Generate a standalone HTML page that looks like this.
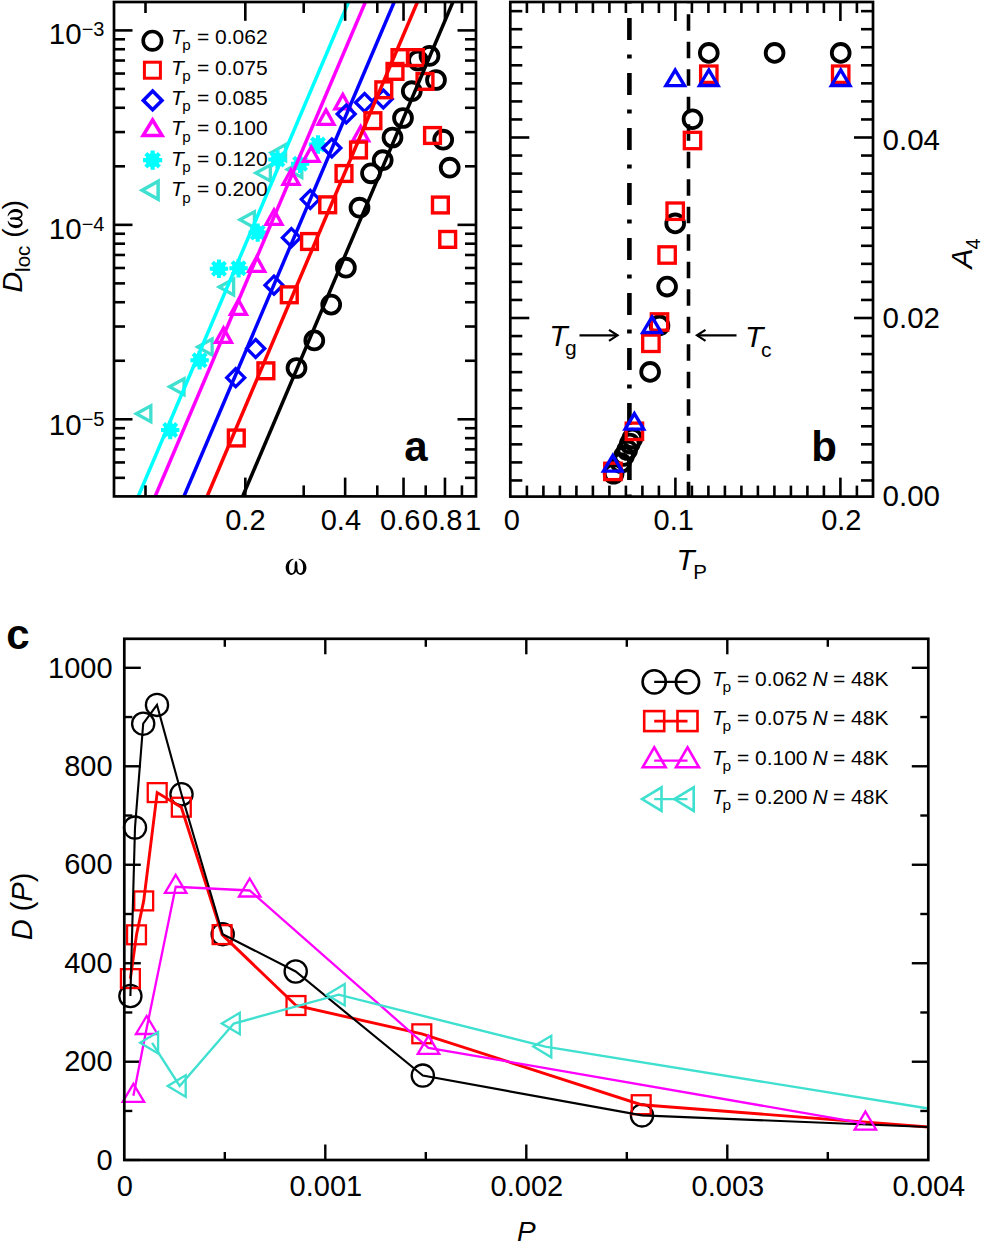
<!DOCTYPE html>
<html><head><meta charset="utf-8"><style>
html,body{margin:0;padding:0;background:#fff;}
svg{display:block;}
text{font-family:"Liberation Sans",sans-serif;fill:#000;}
</style></head><body>
<svg width="981" height="1242" viewBox="0 0 981 1242">
<defs>
<clipPath id="clipA"><rect x="114" y="2" width="362" height="494.4"/></clipPath>
<clipPath id="clipC"><rect x="124.3" y="638.8" width="804" height="521.2"/></clipPath>
</defs>
<rect width="981" height="1242" fill="#fff"/>
<g id="panelA">
<g clip-path="url(#clipA)">
<polygon points="271.13,152.6 285.63,144.6 285.63,160.6" fill="none" stroke="#40e0d0" stroke-width="3.3"/>
<polygon points="287.33,169.5 301.83,161.5 301.83,177.5" fill="none" stroke="#40e0d0" stroke-width="3.3"/>
<polygon points="255.83,173 270.33,165 270.33,181" fill="none" stroke="#40e0d0" stroke-width="3.3"/>
<polygon points="239.93,219.8 254.43,211.8 254.43,227.8" fill="none" stroke="#40e0d0" stroke-width="3.3"/>
<polygon points="219.13,287 233.63,279 233.63,295" fill="none" stroke="#40e0d0" stroke-width="3.3"/>
<polygon points="197.63,347 212.13,339 212.13,355" fill="none" stroke="#40e0d0" stroke-width="3.3"/>
<polygon points="169.53,386.8 184.03,378.8 184.03,394.8" fill="none" stroke="#40e0d0" stroke-width="3.3"/>
<polygon points="136.33,413.7 150.83,405.7 150.83,421.7" fill="none" stroke="#40e0d0" stroke-width="3.3"/>
<path d="M308.8 144.5L327.2 144.5M311.49 137.99L324.51 151.01M318 135.3L318 153.7M324.51 137.99L311.49 151.01" stroke="#00ffff" stroke-width="4.1" stroke-linecap="butt" fill="none"/>
<circle cx="318" cy="144.5" r="6.81" fill="#00ffff"/>
<path d="M290.9 163.8L309.3 163.8M293.59 157.29L306.61 170.31M300.1 154.6L300.1 173M306.61 157.29L293.59 170.31" stroke="#00ffff" stroke-width="4.1" stroke-linecap="butt" fill="none"/>
<circle cx="300.1" cy="163.8" r="6.81" fill="#00ffff"/>
<path d="M268.3 159.5L286.7 159.5M270.99 152.99L284.01 166.01M277.5 150.3L277.5 168.7M284.01 152.99L270.99 166.01" stroke="#00ffff" stroke-width="4.1" stroke-linecap="butt" fill="none"/>
<circle cx="277.5" cy="159.5" r="6.81" fill="#00ffff"/>
<path d="M248.5 232.6L266.9 232.6M251.19 226.09L264.21 239.11M257.7 223.4L257.7 241.8M264.21 226.09L251.19 239.11" stroke="#00ffff" stroke-width="4.1" stroke-linecap="butt" fill="none"/>
<circle cx="257.7" cy="232.6" r="6.81" fill="#00ffff"/>
<path d="M209.8 268.8L228.2 268.8M212.49 262.29L225.51 275.31M219 259.6L219 278M225.51 262.29L212.49 275.31" stroke="#00ffff" stroke-width="4.1" stroke-linecap="butt" fill="none"/>
<circle cx="219" cy="268.8" r="6.81" fill="#00ffff"/>
<path d="M229.4 268.2L247.8 268.2M232.09 261.69L245.11 274.71M238.6 259L238.6 277.4M245.11 261.69L232.09 274.71" stroke="#00ffff" stroke-width="4.1" stroke-linecap="butt" fill="none"/>
<circle cx="238.6" cy="268.2" r="6.81" fill="#00ffff"/>
<path d="M190.4 360.3L208.8 360.3M193.09 353.79L206.11 366.81M199.6 351.1L199.6 369.5M206.11 353.79L193.09 366.81" stroke="#00ffff" stroke-width="4.1" stroke-linecap="butt" fill="none"/>
<circle cx="199.6" cy="360.3" r="6.81" fill="#00ffff"/>
<path d="M161 430L179.4 430M163.69 423.49L176.71 436.51M170.2 420.8L170.2 439.2M176.71 423.49L163.69 436.51" stroke="#00ffff" stroke-width="4.1" stroke-linecap="butt" fill="none"/>
<circle cx="170.2" cy="430" r="6.81" fill="#00ffff"/>
<polygon points="342.8,94.33 350.8,108.83 334.8,108.83" fill="none" stroke="#ff00ff" stroke-width="3.3"/>
<polygon points="326,109.83 334,124.33 318,124.33" fill="none" stroke="#ff00ff" stroke-width="3.3"/>
<polygon points="360.7,126.33 368.7,140.83 352.7,140.83" fill="none" stroke="#ff00ff" stroke-width="3.3"/>
<polygon points="311.2,146.83 319.2,161.33 303.2,161.33" fill="none" stroke="#ff00ff" stroke-width="3.3"/>
<polygon points="291,169.83 299,184.33 283,184.33" fill="none" stroke="#ff00ff" stroke-width="3.3"/>
<polygon points="274,209.83 282,224.33 266,224.33" fill="none" stroke="#ff00ff" stroke-width="3.3"/>
<polygon points="256.7,256.83 264.7,271.33 248.7,271.33" fill="none" stroke="#ff00ff" stroke-width="3.3"/>
<polygon points="238.4,299.83 246.4,314.33 230.4,314.33" fill="none" stroke="#ff00ff" stroke-width="3.3"/>
<polygon points="223.5,327.83 231.5,342.33 215.5,342.33" fill="none" stroke="#ff00ff" stroke-width="3.3"/>
<polygon points="383.3,90 392.3,99 383.3,108 374.3,99" fill="none" stroke="#0000ff" stroke-width="3.3"/>
<polygon points="364.5,93.5 373.5,102.5 364.5,111.5 355.5,102.5" fill="none" stroke="#0000ff" stroke-width="3.3"/>
<polygon points="346.2,105 355.2,114 346.2,123 337.2,114" fill="none" stroke="#0000ff" stroke-width="3.3"/>
<polygon points="331.8,139 340.8,148 331.8,157 322.8,148" fill="none" stroke="#0000ff" stroke-width="3.3"/>
<polygon points="310.3,190.3 319.3,199.3 310.3,208.3 301.3,199.3" fill="none" stroke="#0000ff" stroke-width="3.3"/>
<polygon points="291.4,228.7 300.4,237.7 291.4,246.7 282.4,237.7" fill="none" stroke="#0000ff" stroke-width="3.3"/>
<polygon points="274,276.2 283,285.2 274,294.2 265,285.2" fill="none" stroke="#0000ff" stroke-width="3.3"/>
<polygon points="255.7,339.5 264.7,348.5 255.7,357.5 246.7,348.5" fill="none" stroke="#0000ff" stroke-width="3.3"/>
<polygon points="235.7,368.7 244.7,377.7 235.7,386.7 226.7,377.7" fill="none" stroke="#0000ff" stroke-width="3.3"/>
<circle cx="418" cy="60.5" r="8.95" fill="none" stroke="#000" stroke-width="3.8"/>
<circle cx="429.5" cy="55.9" r="8.95" fill="none" stroke="#000" stroke-width="3.8"/>
<circle cx="436" cy="80" r="8.95" fill="none" stroke="#000" stroke-width="3.8"/>
<circle cx="411.8" cy="91.2" r="8.95" fill="none" stroke="#000" stroke-width="3.8"/>
<circle cx="403" cy="118" r="8.95" fill="none" stroke="#000" stroke-width="3.8"/>
<circle cx="392.5" cy="137.5" r="8.95" fill="none" stroke="#000" stroke-width="3.8"/>
<circle cx="443.2" cy="139.7" r="8.95" fill="none" stroke="#000" stroke-width="3.8"/>
<circle cx="382.7" cy="160.2" r="8.95" fill="none" stroke="#000" stroke-width="3.8"/>
<circle cx="449.7" cy="167.7" r="8.95" fill="none" stroke="#000" stroke-width="3.8"/>
<circle cx="371" cy="173.3" r="8.95" fill="none" stroke="#000" stroke-width="3.8"/>
<circle cx="359.5" cy="207.7" r="8.95" fill="none" stroke="#000" stroke-width="3.8"/>
<circle cx="345.9" cy="267.7" r="8.95" fill="none" stroke="#000" stroke-width="3.8"/>
<circle cx="331.2" cy="304.6" r="8.95" fill="none" stroke="#000" stroke-width="3.8"/>
<circle cx="314.3" cy="340.4" r="8.95" fill="none" stroke="#000" stroke-width="3.8"/>
<circle cx="296.5" cy="368" r="8.95" fill="none" stroke="#000" stroke-width="3.8"/>
<rect x="392.1" y="49.7" width="15.8" height="15.8" fill="none" stroke="#ff0000" stroke-width="3.4"/>
<rect x="407.5" y="49.7" width="15.8" height="15.8" fill="none" stroke="#ff0000" stroke-width="3.4"/>
<rect x="387.1" y="63.5" width="15.8" height="15.8" fill="none" stroke="#ff0000" stroke-width="3.4"/>
<rect x="417.1" y="73.5" width="15.8" height="15.8" fill="none" stroke="#ff0000" stroke-width="3.4"/>
<rect x="375.9" y="81.9" width="15.8" height="15.8" fill="none" stroke="#ff0000" stroke-width="3.4"/>
<rect x="365" y="112.8" width="15.8" height="15.8" fill="none" stroke="#ff0000" stroke-width="3.4"/>
<rect x="424.6" y="127.6" width="15.8" height="15.8" fill="none" stroke="#ff0000" stroke-width="3.4"/>
<rect x="350.6" y="142.1" width="15.8" height="15.8" fill="none" stroke="#ff0000" stroke-width="3.4"/>
<rect x="336.1" y="165.6" width="15.8" height="15.8" fill="none" stroke="#ff0000" stroke-width="3.4"/>
<rect x="319.8" y="196.9" width="15.8" height="15.8" fill="none" stroke="#ff0000" stroke-width="3.4"/>
<rect x="432.5" y="197.1" width="15.8" height="15.8" fill="none" stroke="#ff0000" stroke-width="3.4"/>
<rect x="301.6" y="233.6" width="15.8" height="15.8" fill="none" stroke="#ff0000" stroke-width="3.4"/>
<rect x="439.8" y="231.5" width="15.8" height="15.8" fill="none" stroke="#ff0000" stroke-width="3.4"/>
<rect x="281.4" y="286.9" width="15.8" height="15.8" fill="none" stroke="#ff0000" stroke-width="3.4"/>
<rect x="258" y="362.9" width="15.8" height="15.8" fill="none" stroke="#ff0000" stroke-width="3.4"/>
<rect x="228.4" y="430.1" width="15.8" height="15.8" fill="none" stroke="#ff0000" stroke-width="3.4"/>
<line x1="138.4" y1="496" x2="348.5" y2="2" stroke="#00ffff" stroke-width="3.5"/>
<line x1="155.3" y1="496" x2="365.4" y2="2" stroke="#ff00ff" stroke-width="3.5"/>
<line x1="184.1" y1="496" x2="394.2" y2="2" stroke="#0000ff" stroke-width="3.5"/>
<line x1="207.3" y1="496" x2="417.4" y2="2" stroke="#ff0000" stroke-width="3.5"/>
<line x1="242.8" y1="496" x2="452.9" y2="2" stroke="#000" stroke-width="3.5"/>
</g>
<line x1="114" y1="30.4" x2="132.5" y2="30.4" stroke="#000" stroke-width="2.6"/>
<line x1="476" y1="30.4" x2="457.5" y2="30.4" stroke="#000" stroke-width="2.6"/>
<line x1="114" y1="224.85" x2="132.5" y2="224.85" stroke="#000" stroke-width="2.6"/>
<line x1="476" y1="224.85" x2="457.5" y2="224.85" stroke="#000" stroke-width="2.6"/>
<line x1="114" y1="166.31" x2="125" y2="166.31" stroke="#000" stroke-width="2.6"/>
<line x1="476" y1="166.31" x2="465" y2="166.31" stroke="#000" stroke-width="2.6"/>
<line x1="114" y1="132.07" x2="125" y2="132.07" stroke="#000" stroke-width="2.6"/>
<line x1="476" y1="132.07" x2="465" y2="132.07" stroke="#000" stroke-width="2.6"/>
<line x1="114" y1="107.78" x2="125" y2="107.78" stroke="#000" stroke-width="2.6"/>
<line x1="476" y1="107.78" x2="465" y2="107.78" stroke="#000" stroke-width="2.6"/>
<line x1="114" y1="88.94" x2="125" y2="88.94" stroke="#000" stroke-width="2.6"/>
<line x1="476" y1="88.94" x2="465" y2="88.94" stroke="#000" stroke-width="2.6"/>
<line x1="114" y1="73.54" x2="125" y2="73.54" stroke="#000" stroke-width="2.6"/>
<line x1="476" y1="73.54" x2="465" y2="73.54" stroke="#000" stroke-width="2.6"/>
<line x1="114" y1="60.52" x2="125" y2="60.52" stroke="#000" stroke-width="2.6"/>
<line x1="476" y1="60.52" x2="465" y2="60.52" stroke="#000" stroke-width="2.6"/>
<line x1="114" y1="49.24" x2="125" y2="49.24" stroke="#000" stroke-width="2.6"/>
<line x1="476" y1="49.24" x2="465" y2="49.24" stroke="#000" stroke-width="2.6"/>
<line x1="114" y1="39.3" x2="125" y2="39.3" stroke="#000" stroke-width="2.6"/>
<line x1="476" y1="39.3" x2="465" y2="39.3" stroke="#000" stroke-width="2.6"/>
<line x1="114" y1="419.3" x2="132.5" y2="419.3" stroke="#000" stroke-width="2.6"/>
<line x1="476" y1="419.3" x2="457.5" y2="419.3" stroke="#000" stroke-width="2.6"/>
<line x1="114" y1="360.76" x2="125" y2="360.76" stroke="#000" stroke-width="2.6"/>
<line x1="476" y1="360.76" x2="465" y2="360.76" stroke="#000" stroke-width="2.6"/>
<line x1="114" y1="326.52" x2="125" y2="326.52" stroke="#000" stroke-width="2.6"/>
<line x1="476" y1="326.52" x2="465" y2="326.52" stroke="#000" stroke-width="2.6"/>
<line x1="114" y1="302.23" x2="125" y2="302.23" stroke="#000" stroke-width="2.6"/>
<line x1="476" y1="302.23" x2="465" y2="302.23" stroke="#000" stroke-width="2.6"/>
<line x1="114" y1="283.39" x2="125" y2="283.39" stroke="#000" stroke-width="2.6"/>
<line x1="476" y1="283.39" x2="465" y2="283.39" stroke="#000" stroke-width="2.6"/>
<line x1="114" y1="267.99" x2="125" y2="267.99" stroke="#000" stroke-width="2.6"/>
<line x1="476" y1="267.99" x2="465" y2="267.99" stroke="#000" stroke-width="2.6"/>
<line x1="114" y1="254.97" x2="125" y2="254.97" stroke="#000" stroke-width="2.6"/>
<line x1="476" y1="254.97" x2="465" y2="254.97" stroke="#000" stroke-width="2.6"/>
<line x1="114" y1="243.69" x2="125" y2="243.69" stroke="#000" stroke-width="2.6"/>
<line x1="476" y1="243.69" x2="465" y2="243.69" stroke="#000" stroke-width="2.6"/>
<line x1="114" y1="233.75" x2="125" y2="233.75" stroke="#000" stroke-width="2.6"/>
<line x1="476" y1="233.75" x2="465" y2="233.75" stroke="#000" stroke-width="2.6"/>
<line x1="114" y1="477.84" x2="125" y2="477.84" stroke="#000" stroke-width="2.6"/>
<line x1="476" y1="477.84" x2="465" y2="477.84" stroke="#000" stroke-width="2.6"/>
<line x1="114" y1="462.44" x2="125" y2="462.44" stroke="#000" stroke-width="2.6"/>
<line x1="476" y1="462.44" x2="465" y2="462.44" stroke="#000" stroke-width="2.6"/>
<line x1="114" y1="449.42" x2="125" y2="449.42" stroke="#000" stroke-width="2.6"/>
<line x1="476" y1="449.42" x2="465" y2="449.42" stroke="#000" stroke-width="2.6"/>
<line x1="114" y1="438.14" x2="125" y2="438.14" stroke="#000" stroke-width="2.6"/>
<line x1="476" y1="438.14" x2="465" y2="438.14" stroke="#000" stroke-width="2.6"/>
<line x1="114" y1="428.2" x2="125" y2="428.2" stroke="#000" stroke-width="2.6"/>
<line x1="476" y1="428.2" x2="465" y2="428.2" stroke="#000" stroke-width="2.6"/>
<line x1="145.5" y1="496.4" x2="145.5" y2="485.4" stroke="#000" stroke-width="2.6"/>
<line x1="145.5" y1="2" x2="145.5" y2="13" stroke="#000" stroke-width="2.6"/>
<line x1="245.32" y1="496.4" x2="245.32" y2="477.6" stroke="#000" stroke-width="2.6"/>
<line x1="245.32" y1="2" x2="245.32" y2="20.8" stroke="#000" stroke-width="2.6"/>
<line x1="303.71" y1="496.4" x2="303.71" y2="485.4" stroke="#000" stroke-width="2.6"/>
<line x1="303.71" y1="2" x2="303.71" y2="13" stroke="#000" stroke-width="2.6"/>
<line x1="345.14" y1="496.4" x2="345.14" y2="477.6" stroke="#000" stroke-width="2.6"/>
<line x1="345.14" y1="2" x2="345.14" y2="20.8" stroke="#000" stroke-width="2.6"/>
<line x1="377.28" y1="496.4" x2="377.28" y2="485.4" stroke="#000" stroke-width="2.6"/>
<line x1="377.28" y1="2" x2="377.28" y2="13" stroke="#000" stroke-width="2.6"/>
<line x1="403.53" y1="496.4" x2="403.53" y2="477.6" stroke="#000" stroke-width="2.6"/>
<line x1="403.53" y1="2" x2="403.53" y2="20.8" stroke="#000" stroke-width="2.6"/>
<line x1="425.73" y1="496.4" x2="425.73" y2="485.4" stroke="#000" stroke-width="2.6"/>
<line x1="425.73" y1="2" x2="425.73" y2="13" stroke="#000" stroke-width="2.6"/>
<line x1="444.96" y1="496.4" x2="444.96" y2="477.6" stroke="#000" stroke-width="2.6"/>
<line x1="444.96" y1="2" x2="444.96" y2="20.8" stroke="#000" stroke-width="2.6"/>
<line x1="461.93" y1="496.4" x2="461.93" y2="485.4" stroke="#000" stroke-width="2.6"/>
<line x1="461.93" y1="2" x2="461.93" y2="13" stroke="#000" stroke-width="2.6"/>
<circle cx="152.4" cy="40.7" r="9.2" fill="none" stroke="#000" stroke-width="3.6"/>
<rect x="144.4" y="62.2" width="16" height="16" fill="none" stroke="#ff0000" stroke-width="3"/>
<polygon points="152.65,91.1 161.95,100.4 152.65,109.7 143.35,100.4" fill="none" stroke="#0000ff" stroke-width="3.6"/>
<polygon points="152.6,119.97 162.1,135.47 143.1,135.47" fill="none" stroke="#ff00ff" stroke-width="3.5"/>
<path d="M143 160.2L162.2 160.2M145.81 153.41L159.39 166.99M152.6 150.6L152.6 169.8M159.39 153.41L145.81 166.99" stroke="#00ffff" stroke-width="4.2" stroke-linecap="butt" fill="none"/>
<circle cx="152.6" cy="160.2" r="7.1" fill="#00ffff"/>
<polygon points="142.13,190.2 158.13,181.2 158.13,199.2" fill="none" stroke="#40e0d0" stroke-width="3.5"/>
<text x="171" y="44.1" font-size="21"><tspan font-style="italic">T</tspan><tspan font-size="15.2" dy="6.3" dx="-1.5">p</tspan><tspan dy="-6.3" dx="0.3"> = 0.062</tspan></text>
<text x="171" y="74.55" font-size="21"><tspan font-style="italic">T</tspan><tspan font-size="15.2" dy="6.3" dx="-1.5">p</tspan><tspan dy="-6.3" dx="0.3"> = 0.075</tspan></text>
<text x="171" y="105" font-size="21"><tspan font-style="italic">T</tspan><tspan font-size="15.2" dy="6.3" dx="-1.5">p</tspan><tspan dy="-6.3" dx="0.3"> = 0.085</tspan></text>
<text x="171" y="135.45" font-size="21"><tspan font-style="italic">T</tspan><tspan font-size="15.2" dy="6.3" dx="-1.5">p</tspan><tspan dy="-6.3" dx="0.3"> = 0.100</tspan></text>
<text x="171" y="165.9" font-size="21"><tspan font-style="italic">T</tspan><tspan font-size="15.2" dy="6.3" dx="-1.5">p</tspan><tspan dy="-6.3" dx="0.3"> = 0.120</tspan></text>
<text x="171" y="196.35" font-size="21"><tspan font-style="italic">T</tspan><tspan font-size="15.2" dy="6.3" dx="-1.5">p</tspan><tspan dy="-6.3" dx="0.3"> = 0.200</tspan></text>
<rect x="114" y="2" width="362" height="494.4" fill="none" stroke="#000" stroke-width="2.7"/>
<text x="48.8" y="44.3" font-size="29.5">10<tspan font-size="20" dy="-8.5">&#8722;3</tspan></text>
<text x="48.8" y="239.3" font-size="29.5">10<tspan font-size="20" dy="-8.5">&#8722;4</tspan></text>
<text x="48.8" y="434.6" font-size="29.5">10<tspan font-size="20" dy="-8.5">&#8722;5</tspan></text>
<text transform="translate(245.4 530.4) scale(1 1)" font-size="29" text-anchor="middle">0.2</text>
<text transform="translate(340.9 530.4) scale(1 1)" font-size="29" text-anchor="middle">0.4</text>
<text transform="translate(400.2 530.4) scale(1 1)" font-size="29" text-anchor="middle">0.6</text>
<text transform="translate(442.1 530.4) scale(1 1)" font-size="29" text-anchor="middle">0.8</text>
<text transform="translate(473 530.4) scale(1 1)" font-size="29" text-anchor="middle">1</text>
<path transform="translate(296.05 574.6) scale(0.98 0.97)" d="M-2.7 -16.3 C-7.6 -15.7 -10.6 -11.6 -10.6 -7.2 C-10.6 -2.6 -7.9 0.35 -4.9 0.35 C-2.3 0.35 -0.7 -1.4 0 -3.4 C0.7 -1.4 2.3 0.35 4.9 0.35 C7.9 0.35 10.6 -2.6 10.6 -7.2 C10.6 -11.6 7.6 -15.7 2.7 -16.3 L2.5 -15.8 C5.6 -14.6 7.2 -11.4 7.2 -7.6 C7.2 -3.7 6.1 -1.4 4.5 -1.4 C2.9 -1.4 1.8 -3.2 1.5 -5.6 C1.5 -9 1.6 -13.6 0 -13.9 C-1.6 -13.6 -1.5 -9 -1.5 -5.6 C-1.8 -3.2 -2.9 -1.4 -4.5 -1.4 C-6.1 -1.4 -7.2 -3.7 -7.2 -7.6 C-7.2 -11.4 -5.6 -14.6 -2.5 -15.8 Z" fill="#000"/>
<text transform="translate(21.6 292.5) rotate(-90)" font-size="28.5"><tspan font-style="italic">D</tspan><tspan font-size="20.5" dy="8">loc</tspan><tspan dy="-8"> (</tspan><tspan font-family="Liberation Serif" fill-opacity="0">&#969;</tspan>)</text>
<path transform="translate(22.3 218.6) rotate(-90) scale(0.9 0.9)" d="M-2.7 -16.3 C-7.6 -15.7 -10.6 -11.6 -10.6 -7.2 C-10.6 -2.6 -7.9 0.35 -4.9 0.35 C-2.3 0.35 -0.7 -1.4 0 -3.4 C0.7 -1.4 2.3 0.35 4.9 0.35 C7.9 0.35 10.6 -2.6 10.6 -7.2 C10.6 -11.6 7.6 -15.7 2.7 -16.3 L2.5 -15.8 C5.6 -14.6 7.2 -11.4 7.2 -7.6 C7.2 -3.7 6.1 -1.4 4.5 -1.4 C2.9 -1.4 1.8 -3.2 1.5 -5.6 C1.5 -9 1.6 -13.6 0 -13.9 C-1.6 -13.6 -1.5 -9 -1.5 -5.6 C-1.8 -3.2 -2.9 -1.4 -4.5 -1.4 C-6.1 -1.4 -7.2 -3.7 -7.2 -7.6 C-7.2 -11.4 -5.6 -14.6 -2.5 -15.8 Z" fill="#000"/>
<text x="416" y="460.5" font-size="42" text-anchor="middle" font-weight="bold">a</text>
</g>
<g id="panelB">
<line x1="526.9" y1="496.6" x2="526.9" y2="485.6" stroke="#000" stroke-width="2.6"/>
<line x1="526.9" y1="2" x2="526.9" y2="13" stroke="#000" stroke-width="2.6"/>
<line x1="543.4" y1="496.6" x2="543.4" y2="485.6" stroke="#000" stroke-width="2.6"/>
<line x1="543.4" y1="2" x2="543.4" y2="13" stroke="#000" stroke-width="2.6"/>
<line x1="559.9" y1="496.6" x2="559.9" y2="485.6" stroke="#000" stroke-width="2.6"/>
<line x1="559.9" y1="2" x2="559.9" y2="13" stroke="#000" stroke-width="2.6"/>
<line x1="576.4" y1="496.6" x2="576.4" y2="485.6" stroke="#000" stroke-width="2.6"/>
<line x1="576.4" y1="2" x2="576.4" y2="13" stroke="#000" stroke-width="2.6"/>
<line x1="592.9" y1="496.6" x2="592.9" y2="485.6" stroke="#000" stroke-width="2.6"/>
<line x1="592.9" y1="2" x2="592.9" y2="13" stroke="#000" stroke-width="2.6"/>
<line x1="609.4" y1="496.6" x2="609.4" y2="485.6" stroke="#000" stroke-width="2.6"/>
<line x1="609.4" y1="2" x2="609.4" y2="13" stroke="#000" stroke-width="2.6"/>
<line x1="625.9" y1="496.6" x2="625.9" y2="485.6" stroke="#000" stroke-width="2.6"/>
<line x1="625.9" y1="2" x2="625.9" y2="13" stroke="#000" stroke-width="2.6"/>
<line x1="642.4" y1="496.6" x2="642.4" y2="485.6" stroke="#000" stroke-width="2.6"/>
<line x1="642.4" y1="2" x2="642.4" y2="13" stroke="#000" stroke-width="2.6"/>
<line x1="658.9" y1="496.6" x2="658.9" y2="485.6" stroke="#000" stroke-width="2.6"/>
<line x1="658.9" y1="2" x2="658.9" y2="13" stroke="#000" stroke-width="2.6"/>
<line x1="675.4" y1="496.6" x2="675.4" y2="477.6" stroke="#000" stroke-width="2.6"/>
<line x1="675.4" y1="2" x2="675.4" y2="21" stroke="#000" stroke-width="2.6"/>
<line x1="691.9" y1="496.6" x2="691.9" y2="485.6" stroke="#000" stroke-width="2.6"/>
<line x1="691.9" y1="2" x2="691.9" y2="13" stroke="#000" stroke-width="2.6"/>
<line x1="708.4" y1="496.6" x2="708.4" y2="485.6" stroke="#000" stroke-width="2.6"/>
<line x1="708.4" y1="2" x2="708.4" y2="13" stroke="#000" stroke-width="2.6"/>
<line x1="724.9" y1="496.6" x2="724.9" y2="485.6" stroke="#000" stroke-width="2.6"/>
<line x1="724.9" y1="2" x2="724.9" y2="13" stroke="#000" stroke-width="2.6"/>
<line x1="741.4" y1="496.6" x2="741.4" y2="485.6" stroke="#000" stroke-width="2.6"/>
<line x1="741.4" y1="2" x2="741.4" y2="13" stroke="#000" stroke-width="2.6"/>
<line x1="757.9" y1="496.6" x2="757.9" y2="485.6" stroke="#000" stroke-width="2.6"/>
<line x1="757.9" y1="2" x2="757.9" y2="13" stroke="#000" stroke-width="2.6"/>
<line x1="774.4" y1="496.6" x2="774.4" y2="485.6" stroke="#000" stroke-width="2.6"/>
<line x1="774.4" y1="2" x2="774.4" y2="13" stroke="#000" stroke-width="2.6"/>
<line x1="790.9" y1="496.6" x2="790.9" y2="485.6" stroke="#000" stroke-width="2.6"/>
<line x1="790.9" y1="2" x2="790.9" y2="13" stroke="#000" stroke-width="2.6"/>
<line x1="807.4" y1="496.6" x2="807.4" y2="485.6" stroke="#000" stroke-width="2.6"/>
<line x1="807.4" y1="2" x2="807.4" y2="13" stroke="#000" stroke-width="2.6"/>
<line x1="823.9" y1="496.6" x2="823.9" y2="485.6" stroke="#000" stroke-width="2.6"/>
<line x1="823.9" y1="2" x2="823.9" y2="13" stroke="#000" stroke-width="2.6"/>
<line x1="840.4" y1="496.6" x2="840.4" y2="477.6" stroke="#000" stroke-width="2.6"/>
<line x1="840.4" y1="2" x2="840.4" y2="21" stroke="#000" stroke-width="2.6"/>
<line x1="856.9" y1="496.6" x2="856.9" y2="485.6" stroke="#000" stroke-width="2.6"/>
<line x1="856.9" y1="2" x2="856.9" y2="13" stroke="#000" stroke-width="2.6"/>
<line x1="510.3" y1="480.45" x2="522.3" y2="480.45" stroke="#000" stroke-width="2.6"/>
<line x1="873" y1="480.45" x2="861" y2="480.45" stroke="#000" stroke-width="2.6"/>
<line x1="510.3" y1="462.4" x2="522.3" y2="462.4" stroke="#000" stroke-width="2.6"/>
<line x1="873" y1="462.4" x2="861" y2="462.4" stroke="#000" stroke-width="2.6"/>
<line x1="510.3" y1="444.35" x2="522.3" y2="444.35" stroke="#000" stroke-width="2.6"/>
<line x1="873" y1="444.35" x2="861" y2="444.35" stroke="#000" stroke-width="2.6"/>
<line x1="510.3" y1="426.3" x2="522.3" y2="426.3" stroke="#000" stroke-width="2.6"/>
<line x1="873" y1="426.3" x2="861" y2="426.3" stroke="#000" stroke-width="2.6"/>
<line x1="510.3" y1="408.25" x2="522.3" y2="408.25" stroke="#000" stroke-width="2.6"/>
<line x1="873" y1="408.25" x2="861" y2="408.25" stroke="#000" stroke-width="2.6"/>
<line x1="510.3" y1="390.2" x2="522.3" y2="390.2" stroke="#000" stroke-width="2.6"/>
<line x1="873" y1="390.2" x2="861" y2="390.2" stroke="#000" stroke-width="2.6"/>
<line x1="510.3" y1="372.15" x2="522.3" y2="372.15" stroke="#000" stroke-width="2.6"/>
<line x1="873" y1="372.15" x2="861" y2="372.15" stroke="#000" stroke-width="2.6"/>
<line x1="510.3" y1="354.1" x2="522.3" y2="354.1" stroke="#000" stroke-width="2.6"/>
<line x1="873" y1="354.1" x2="861" y2="354.1" stroke="#000" stroke-width="2.6"/>
<line x1="510.3" y1="336.05" x2="522.3" y2="336.05" stroke="#000" stroke-width="2.6"/>
<line x1="873" y1="336.05" x2="861" y2="336.05" stroke="#000" stroke-width="2.6"/>
<line x1="510.3" y1="318" x2="529.3" y2="318" stroke="#000" stroke-width="2.6"/>
<line x1="873" y1="318" x2="854" y2="318" stroke="#000" stroke-width="2.6"/>
<line x1="510.3" y1="299.95" x2="522.3" y2="299.95" stroke="#000" stroke-width="2.6"/>
<line x1="873" y1="299.95" x2="861" y2="299.95" stroke="#000" stroke-width="2.6"/>
<line x1="510.3" y1="281.9" x2="522.3" y2="281.9" stroke="#000" stroke-width="2.6"/>
<line x1="873" y1="281.9" x2="861" y2="281.9" stroke="#000" stroke-width="2.6"/>
<line x1="510.3" y1="263.85" x2="522.3" y2="263.85" stroke="#000" stroke-width="2.6"/>
<line x1="873" y1="263.85" x2="861" y2="263.85" stroke="#000" stroke-width="2.6"/>
<line x1="510.3" y1="245.8" x2="522.3" y2="245.8" stroke="#000" stroke-width="2.6"/>
<line x1="873" y1="245.8" x2="861" y2="245.8" stroke="#000" stroke-width="2.6"/>
<line x1="510.3" y1="227.75" x2="522.3" y2="227.75" stroke="#000" stroke-width="2.6"/>
<line x1="873" y1="227.75" x2="861" y2="227.75" stroke="#000" stroke-width="2.6"/>
<line x1="510.3" y1="209.7" x2="522.3" y2="209.7" stroke="#000" stroke-width="2.6"/>
<line x1="873" y1="209.7" x2="861" y2="209.7" stroke="#000" stroke-width="2.6"/>
<line x1="510.3" y1="191.65" x2="522.3" y2="191.65" stroke="#000" stroke-width="2.6"/>
<line x1="873" y1="191.65" x2="861" y2="191.65" stroke="#000" stroke-width="2.6"/>
<line x1="510.3" y1="173.6" x2="522.3" y2="173.6" stroke="#000" stroke-width="2.6"/>
<line x1="873" y1="173.6" x2="861" y2="173.6" stroke="#000" stroke-width="2.6"/>
<line x1="510.3" y1="155.55" x2="522.3" y2="155.55" stroke="#000" stroke-width="2.6"/>
<line x1="873" y1="155.55" x2="861" y2="155.55" stroke="#000" stroke-width="2.6"/>
<line x1="510.3" y1="137.5" x2="529.3" y2="137.5" stroke="#000" stroke-width="2.6"/>
<line x1="873" y1="137.5" x2="854" y2="137.5" stroke="#000" stroke-width="2.6"/>
<line x1="510.3" y1="119.45" x2="522.3" y2="119.45" stroke="#000" stroke-width="2.6"/>
<line x1="873" y1="119.45" x2="861" y2="119.45" stroke="#000" stroke-width="2.6"/>
<line x1="510.3" y1="101.4" x2="522.3" y2="101.4" stroke="#000" stroke-width="2.6"/>
<line x1="873" y1="101.4" x2="861" y2="101.4" stroke="#000" stroke-width="2.6"/>
<line x1="510.3" y1="83.35" x2="522.3" y2="83.35" stroke="#000" stroke-width="2.6"/>
<line x1="873" y1="83.35" x2="861" y2="83.35" stroke="#000" stroke-width="2.6"/>
<line x1="510.3" y1="65.3" x2="522.3" y2="65.3" stroke="#000" stroke-width="2.6"/>
<line x1="873" y1="65.3" x2="861" y2="65.3" stroke="#000" stroke-width="2.6"/>
<line x1="510.3" y1="47.25" x2="522.3" y2="47.25" stroke="#000" stroke-width="2.6"/>
<line x1="873" y1="47.25" x2="861" y2="47.25" stroke="#000" stroke-width="2.6"/>
<line x1="510.3" y1="29.2" x2="522.3" y2="29.2" stroke="#000" stroke-width="2.6"/>
<line x1="873" y1="29.2" x2="861" y2="29.2" stroke="#000" stroke-width="2.6"/>
<line x1="510.3" y1="11.15" x2="522.3" y2="11.15" stroke="#000" stroke-width="2.6"/>
<line x1="873" y1="11.15" x2="861" y2="11.15" stroke="#000" stroke-width="2.6"/>
<line x1="629.4" y1="2" x2="629.4" y2="496.6" stroke="#000" stroke-width="4.6" stroke-dasharray="22 14.5 4 14.5" stroke-dashoffset="39"/>
<line x1="688.5" y1="2" x2="688.5" y2="496.6" stroke="#000" stroke-width="3.6" stroke-dasharray="16.4 11.1" stroke-dashoffset="-12.3"/>
<circle cx="708.8" cy="52.9" r="8.9" fill="none" stroke="#000" stroke-width="3.8"/>
<circle cx="774.6" cy="52.9" r="8.9" fill="none" stroke="#000" stroke-width="3.8"/>
<circle cx="840.7" cy="52.9" r="8.9" fill="none" stroke="#000" stroke-width="3.8"/>
<circle cx="692.5" cy="119.2" r="8.9" fill="none" stroke="#000" stroke-width="3.8"/>
<circle cx="675.2" cy="223.4" r="8.9" fill="none" stroke="#000" stroke-width="3.8"/>
<circle cx="667.1" cy="286.6" r="8.9" fill="none" stroke="#000" stroke-width="3.8"/>
<circle cx="659.5" cy="325.4" r="8.9" fill="none" stroke="#000" stroke-width="3.8"/>
<circle cx="650.1" cy="371.9" r="8.9" fill="none" stroke="#000" stroke-width="3.8"/>
<circle cx="632.3" cy="438.5" r="8.9" fill="none" stroke="#000" stroke-width="3.8"/>
<circle cx="629.8" cy="443.6" r="8.9" fill="none" stroke="#000" stroke-width="3.8"/>
<circle cx="627.2" cy="450" r="8.9" fill="none" stroke="#000" stroke-width="3.8"/>
<circle cx="624" cy="455.9" r="8.9" fill="none" stroke="#000" stroke-width="3.8"/>
<circle cx="620.8" cy="463" r="8.9" fill="none" stroke="#000" stroke-width="3.8"/>
<circle cx="613.6" cy="473.8" r="8.9" fill="none" stroke="#000" stroke-width="3.8"/>
<rect x="700.6" y="66" width="16.4" height="16.4" fill="none" stroke="#ff0000" stroke-width="3.3"/>
<rect x="832.5" y="66" width="16.4" height="16.4" fill="none" stroke="#ff0000" stroke-width="3.3"/>
<rect x="684.3" y="132.3" width="16.4" height="16.4" fill="none" stroke="#ff0000" stroke-width="3.3"/>
<rect x="667" y="203" width="16.4" height="16.4" fill="none" stroke="#ff0000" stroke-width="3.3"/>
<rect x="658.9" y="246.8" width="16.4" height="16.4" fill="none" stroke="#ff0000" stroke-width="3.3"/>
<rect x="651.3" y="313.8" width="16.4" height="16.4" fill="none" stroke="#ff0000" stroke-width="3.3"/>
<rect x="642.7" y="335.1" width="16.4" height="16.4" fill="none" stroke="#ff0000" stroke-width="3.3"/>
<rect x="626.2" y="423.1" width="16.4" height="16.4" fill="none" stroke="#ff0000" stroke-width="3.3"/>
<rect x="604.7" y="463.2" width="16.4" height="16.4" fill="none" stroke="#ff0000" stroke-width="3.3"/>
<polygon points="675.2,70.17 684.45,85.67 665.95,85.67" fill="none" stroke="#0000ff" stroke-width="3.4"/>
<polygon points="708.8,69.97 718.05,85.47 699.55,85.47" fill="none" stroke="#0000ff" stroke-width="3.4"/>
<polygon points="840.7,69.97 849.95,85.47 831.45,85.47" fill="none" stroke="#0000ff" stroke-width="3.4"/>
<polygon points="652,316.97 661.25,332.47 642.75,332.47" fill="none" stroke="#0000ff" stroke-width="3.4"/>
<polygon points="634.4,413.67 643.65,429.17 625.15,429.17" fill="none" stroke="#0000ff" stroke-width="3.4"/>
<polygon points="612.8,455.67 622.05,471.17 603.55,471.17" fill="none" stroke="#0000ff" stroke-width="3.4"/>
<rect x="510.3" y="2" width="362.7" height="494.6" fill="none" stroke="#000" stroke-width="2.7"/>
<line x1="579.5" y1="335.3" x2="617.5" y2="335.3" stroke="#000" stroke-width="2.2"/>
<path d="M609 329.8 L617.5 335.3 L609 340.8" fill="none" stroke="#000" stroke-width="2.2"/>
<line x1="736.5" y1="335.3" x2="697" y2="335.3" stroke="#000" stroke-width="2.2"/>
<path d="M705.5 329.8 L697 335.3 L705.5 340.8" fill="none" stroke="#000" stroke-width="2.2"/>
<text x="549.3" y="346" font-size="30"><tspan font-style="italic">T</tspan><tspan font-size="21" dy="9" dx="-2.6">g</tspan></text>
<text x="745" y="347" font-size="30"><tspan font-style="italic">T</tspan><tspan font-size="21" dy="9.5" dx="-2.4">c</tspan></text>
<text x="824" y="460.5" font-size="42" text-anchor="middle" font-weight="bold">b</text>
<text transform="translate(882.6 149.6) scale(1 1)" font-size="29.5" text-anchor="start">0.04</text>
<text transform="translate(882.6 327.9) scale(1 1)" font-size="29.5" text-anchor="start">0.02</text>
<text transform="translate(882.6 506.3) scale(1 1)" font-size="29.5" text-anchor="start">0.00</text>
<text transform="translate(511.8 530.4) scale(1 1)" font-size="29" text-anchor="middle">0</text>
<text transform="translate(673.7 530.4) scale(1 1)" font-size="29" text-anchor="middle">0.1</text>
<text transform="translate(841.3 530.4) scale(1 1)" font-size="29" text-anchor="middle">0.2</text>
<text x="676.6" y="569.9" font-size="29.5"><tspan font-style="italic">T</tspan><tspan font-size="20.5" dy="9" dx="-1.4">P</tspan></text>
<text transform="translate(971.8 268.6) rotate(-90)" font-size="30"><tspan font-style="italic">A</tspan><tspan font-size="20" dy="8" dx="-0.8">4</tspan></text>
</g>
<g id="panelC">
<line x1="224.8" y1="1160" x2="224.8" y2="1152" stroke="#000" stroke-width="2.4"/>
<line x1="224.8" y1="638.8" x2="224.8" y2="646.8" stroke="#000" stroke-width="2.4"/>
<line x1="325.3" y1="1160" x2="325.3" y2="1144.5" stroke="#000" stroke-width="2.4"/>
<line x1="325.3" y1="638.8" x2="325.3" y2="654.3" stroke="#000" stroke-width="2.4"/>
<line x1="425.8" y1="1160" x2="425.8" y2="1152" stroke="#000" stroke-width="2.4"/>
<line x1="425.8" y1="638.8" x2="425.8" y2="646.8" stroke="#000" stroke-width="2.4"/>
<line x1="526.3" y1="1160" x2="526.3" y2="1144.5" stroke="#000" stroke-width="2.4"/>
<line x1="526.3" y1="638.8" x2="526.3" y2="654.3" stroke="#000" stroke-width="2.4"/>
<line x1="626.8" y1="1160" x2="626.8" y2="1152" stroke="#000" stroke-width="2.4"/>
<line x1="626.8" y1="638.8" x2="626.8" y2="646.8" stroke="#000" stroke-width="2.4"/>
<line x1="727.3" y1="1160" x2="727.3" y2="1144.5" stroke="#000" stroke-width="2.4"/>
<line x1="727.3" y1="638.8" x2="727.3" y2="654.3" stroke="#000" stroke-width="2.4"/>
<line x1="827.8" y1="1160" x2="827.8" y2="1152" stroke="#000" stroke-width="2.4"/>
<line x1="827.8" y1="638.8" x2="827.8" y2="646.8" stroke="#000" stroke-width="2.4"/>
<line x1="124.3" y1="1110.96" x2="132.3" y2="1110.96" stroke="#000" stroke-width="2.4"/>
<line x1="928.3" y1="1110.96" x2="920.3" y2="1110.96" stroke="#000" stroke-width="2.4"/>
<line x1="124.3" y1="1061.72" x2="140.8" y2="1061.72" stroke="#000" stroke-width="2.4"/>
<line x1="928.3" y1="1061.72" x2="911.8" y2="1061.72" stroke="#000" stroke-width="2.4"/>
<line x1="124.3" y1="1012.48" x2="132.3" y2="1012.48" stroke="#000" stroke-width="2.4"/>
<line x1="928.3" y1="1012.48" x2="920.3" y2="1012.48" stroke="#000" stroke-width="2.4"/>
<line x1="124.3" y1="963.24" x2="140.8" y2="963.24" stroke="#000" stroke-width="2.4"/>
<line x1="928.3" y1="963.24" x2="911.8" y2="963.24" stroke="#000" stroke-width="2.4"/>
<line x1="124.3" y1="914" x2="132.3" y2="914" stroke="#000" stroke-width="2.4"/>
<line x1="928.3" y1="914" x2="920.3" y2="914" stroke="#000" stroke-width="2.4"/>
<line x1="124.3" y1="864.76" x2="140.8" y2="864.76" stroke="#000" stroke-width="2.4"/>
<line x1="928.3" y1="864.76" x2="911.8" y2="864.76" stroke="#000" stroke-width="2.4"/>
<line x1="124.3" y1="815.52" x2="132.3" y2="815.52" stroke="#000" stroke-width="2.4"/>
<line x1="928.3" y1="815.52" x2="920.3" y2="815.52" stroke="#000" stroke-width="2.4"/>
<line x1="124.3" y1="766.28" x2="140.8" y2="766.28" stroke="#000" stroke-width="2.4"/>
<line x1="928.3" y1="766.28" x2="911.8" y2="766.28" stroke="#000" stroke-width="2.4"/>
<line x1="124.3" y1="717.04" x2="132.3" y2="717.04" stroke="#000" stroke-width="2.4"/>
<line x1="928.3" y1="717.04" x2="920.3" y2="717.04" stroke="#000" stroke-width="2.4"/>
<line x1="124.3" y1="667.8" x2="140.8" y2="667.8" stroke="#000" stroke-width="2.4"/>
<line x1="928.3" y1="667.8" x2="911.8" y2="667.8" stroke="#000" stroke-width="2.4"/>
<line x1="124.3" y1="1160" x2="140.3" y2="1160" stroke="#000" stroke-width="2.2"/>
<g>
<circle cx="130.4" cy="996" r="11.1" fill="none" stroke="#000" stroke-width="2.3"/>
<circle cx="135" cy="827.6" r="11.1" fill="none" stroke="#000" stroke-width="2.3"/>
<circle cx="143.2" cy="723.7" r="11.1" fill="none" stroke="#000" stroke-width="2.3"/>
<circle cx="157" cy="704.9" r="11.1" fill="none" stroke="#000" stroke-width="2.3"/>
<circle cx="181.5" cy="794.3" r="11.1" fill="none" stroke="#000" stroke-width="2.3"/>
<circle cx="222.7" cy="934.2" r="11.1" fill="none" stroke="#000" stroke-width="2.3"/>
<circle cx="295.7" cy="971.5" r="11.1" fill="none" stroke="#000" stroke-width="2.3"/>
<circle cx="422.8" cy="1075.6" r="11.1" fill="none" stroke="#000" stroke-width="2.3"/>
<circle cx="642" cy="1115.4" r="11.1" fill="none" stroke="#000" stroke-width="2.3"/>
<polyline points="130.4,978.6 136.5,934.8 143.7,900.9 157.2,792.6 181.3,807.2 222.1,934.6 296,1005.5 421.8,1033.8 641.2,1104.7 928.3,1127" fill="none" stroke="#ff0000" stroke-width="2.9" stroke-linejoin="miter"/>
<rect x="120.95" y="969.15" width="18.9" height="18.9" fill="none" stroke="#ff0000" stroke-width="2.3"/>
<rect x="127.05" y="925.35" width="18.9" height="18.9" fill="none" stroke="#ff0000" stroke-width="2.3"/>
<rect x="134.25" y="891.45" width="18.9" height="18.9" fill="none" stroke="#ff0000" stroke-width="2.3"/>
<rect x="147.75" y="783.15" width="18.9" height="18.9" fill="none" stroke="#ff0000" stroke-width="2.3"/>
<rect x="171.85" y="797.75" width="18.9" height="18.9" fill="none" stroke="#ff0000" stroke-width="2.3"/>
<rect x="212.65" y="925.15" width="18.9" height="18.9" fill="none" stroke="#ff0000" stroke-width="2.3"/>
<rect x="286.55" y="996.05" width="18.9" height="18.9" fill="none" stroke="#ff0000" stroke-width="2.3"/>
<rect x="412.35" y="1024.35" width="18.9" height="18.9" fill="none" stroke="#ff0000" stroke-width="2.3"/>
<rect x="631.75" y="1095.25" width="18.9" height="18.9" fill="none" stroke="#ff0000" stroke-width="2.3"/>
<polyline points="130.4,996 135,827.6 143.2,723.7 157,704.9 181.5,794.3 222.7,934.2 295.7,971.5 422.8,1075.6 642,1115.4 928.3,1127" fill="none" stroke="#000" stroke-width="2.1" stroke-linejoin="miter"/>
<polyline points="133.4,1095.8 146.7,1028 175.7,886.8 249.7,890.5 428.5,1047.8 865.4,1123.6" fill="none" stroke="#ff00ff" stroke-width="2.3" stroke-linejoin="miter"/>
<polygon points="133.4,1083.8 144.15,1101.8 122.65,1101.8" fill="none" stroke="#ff00ff" stroke-width="2.3"/>
<polygon points="146.7,1016 157.45,1034 135.95,1034" fill="none" stroke="#ff00ff" stroke-width="2.3"/>
<polygon points="175.7,874.8 186.45,892.8 164.95,892.8" fill="none" stroke="#ff00ff" stroke-width="2.3"/>
<polygon points="249.7,878.5 260.45,896.5 238.95,896.5" fill="none" stroke="#ff00ff" stroke-width="2.3"/>
<polygon points="428.5,1035.8 439.25,1053.8 417.75,1053.8" fill="none" stroke="#ff00ff" stroke-width="2.3"/>
<polygon points="865.4,1111.6 876.15,1129.6 854.65,1129.6" fill="none" stroke="#ff00ff" stroke-width="2.3"/>
<polyline points="152.1,1042.8 179.7,1086 233.8,1023.5 338.7,994.7 545.3,1046.6 928.3,1108.5" fill="none" stroke="#40e0d0" stroke-width="2.4" stroke-linejoin="miter"/>
<polygon points="140.1,1042.8 158.1,1032.05 158.1,1053.55" fill="none" stroke="#40e0d0" stroke-width="2.3"/>
<polygon points="167.7,1086 185.7,1075.25 185.7,1096.75" fill="none" stroke="#40e0d0" stroke-width="2.3"/>
<polygon points="221.8,1023.5 239.8,1012.75 239.8,1034.25" fill="none" stroke="#40e0d0" stroke-width="2.3"/>
<polygon points="326.7,994.7 344.7,983.95 344.7,1005.45" fill="none" stroke="#40e0d0" stroke-width="2.3"/>
<polygon points="533.3,1046.6 551.3,1035.85 551.3,1057.35" fill="none" stroke="#40e0d0" stroke-width="2.3"/>
</g>
<rect x="124.3" y="638.8" width="804" height="521.2" fill="none" stroke="#000" stroke-width="2.7"/>
<line x1="654.2" y1="681.9" x2="687.5" y2="681.9" stroke="#000" stroke-width="2.2"/>
<circle cx="654.2" cy="681.9" r="11.6" fill="none" stroke="#000" stroke-width="2.6"/>
<circle cx="687.5" cy="681.9" r="11.6" fill="none" stroke="#000" stroke-width="2.6"/>
<text x="712" y="686" font-size="21"><tspan font-style="italic">T</tspan><tspan font-size="15.5" dy="6" dx="-2.4">p</tspan><tspan dy="-6" dx="0"> = 0.062 </tspan><tspan font-style="italic" dx="-0.8">N</tspan><tspan dx="-0.6"> = 48K</tspan></text>
<line x1="654.2" y1="721.1" x2="687.5" y2="721.1" stroke="#ff0000" stroke-width="2.8"/>
<rect x="644.2" y="711.1" width="20" height="20" fill="none" stroke="#ff0000" stroke-width="2.6"/>
<rect x="677.5" y="711.1" width="20" height="20" fill="none" stroke="#ff0000" stroke-width="2.6"/>
<text x="712" y="725.25" font-size="21"><tspan font-style="italic">T</tspan><tspan font-size="15.5" dy="6" dx="-2.4">p</tspan><tspan dy="-6" dx="0"> = 0.075 </tspan><tspan font-style="italic" dx="-0.8">N</tspan><tspan dx="-0.6"> = 48K</tspan></text>
<line x1="654.2" y1="760.6" x2="687.5" y2="760.6" stroke="#ff00ff" stroke-width="2.4"/>
<polygon points="654.2,747.27 665.7,767.27 642.7,767.27" fill="none" stroke="#ff00ff" stroke-width="2.6"/>
<polygon points="687.5,747.27 699,767.27 676,767.27" fill="none" stroke="#ff00ff" stroke-width="2.6"/>
<text x="712" y="764.5" font-size="21"><tspan font-style="italic">T</tspan><tspan font-size="15.5" dy="6" dx="-2.4">p</tspan><tspan dy="-6" dx="0"> = 0.100 </tspan><tspan font-style="italic" dx="-0.8">N</tspan><tspan dx="-0.6"> = 48K</tspan></text>
<line x1="654.2" y1="799.1" x2="687.5" y2="799.1" stroke="#40e0d0" stroke-width="2.4"/>
<polygon points="642,799.1 661.5,787.35 661.5,810.85" fill="none" stroke="#40e0d0" stroke-width="2.6"/>
<polygon points="674.2,799.1 693.7,787.35 693.7,810.85" fill="none" stroke="#40e0d0" stroke-width="2.6"/>
<text x="712" y="803.75" font-size="21"><tspan font-style="italic">T</tspan><tspan font-size="15.5" dy="6" dx="-2.4">p</tspan><tspan dy="-6" dx="0"> = 0.200 </tspan><tspan font-style="italic" dx="-0.8">N</tspan><tspan dx="-0.6"> = 48K</tspan></text>
<text x="6.2" y="649" font-size="42" font-weight="bold">c</text>
<text transform="translate(112.6 1169.9) scale(1 1)" font-size="29" text-anchor="end">0</text>
<text transform="translate(112.6 1071.42) scale(1 1)" font-size="29" text-anchor="end">200</text>
<text transform="translate(112.6 972.94) scale(1 1)" font-size="29" text-anchor="end">400</text>
<text transform="translate(112.6 874.46) scale(1 1)" font-size="29" text-anchor="end">600</text>
<text transform="translate(112.6 775.98) scale(1 1)" font-size="29" text-anchor="end">800</text>
<text transform="translate(112.6 677.5) scale(1 1)" font-size="29" text-anchor="end">1000</text>
<text transform="translate(124.9 1196.4) scale(1 1)" font-size="29" text-anchor="middle">0</text>
<text transform="translate(325.9 1196.4) scale(1 1)" font-size="29" text-anchor="middle">0.001</text>
<text transform="translate(526.9 1196.4) scale(1 1)" font-size="29" text-anchor="middle">0.002</text>
<text transform="translate(727.9 1196.4) scale(1 1)" font-size="29" text-anchor="middle">0.003</text>
<text transform="translate(928.9 1196.4) scale(1 1)" font-size="29" text-anchor="middle">0.004</text>
<text x="526.3" y="1241" font-size="28" text-anchor="middle" font-style="italic">P</text>
<text transform="translate(32.2 940.3) rotate(-90)" font-size="29"><tspan font-style="italic">D</tspan> (<tspan font-style="italic">P</tspan>)</text>
</g>
</svg>
</body></html>
